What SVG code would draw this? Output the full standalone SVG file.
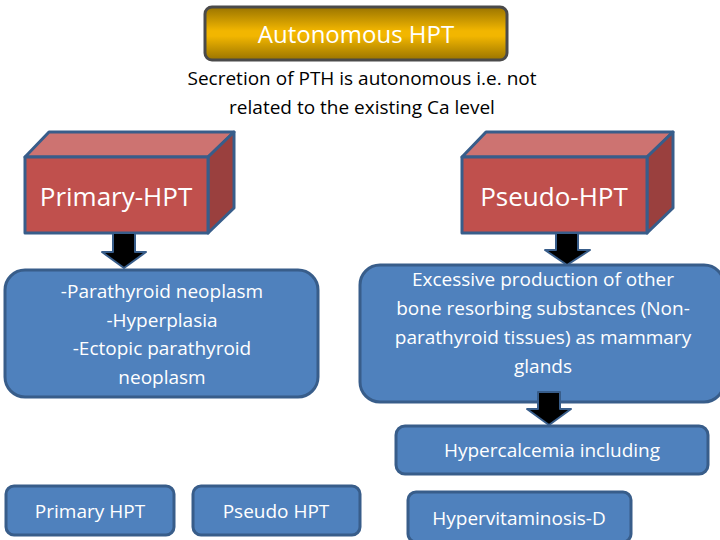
<svg xmlns="http://www.w3.org/2000/svg" width="720" height="540" viewBox="0 0 720 540">
<defs>
<linearGradient id="gold" x1="0" y1="0" x2="0" y2="1">
<stop offset="0" stop-color="#9a7400"/><stop offset="0.45" stop-color="#f2b600"/><stop offset="0.55" stop-color="#f2b600"/><stop offset="1" stop-color="#9a7400"/>
</linearGradient>
<style>
text{font-family:"Open Sans","Liberation Sans",sans-serif;text-anchor:middle}
.w{fill:#ffffff}
.b{fill:#000000}
.blue{fill:#4f81bd;stroke:#385d8a;stroke-width:3}
.front{fill:#c0504d;stroke:#385d8a;stroke-width:3;stroke-linejoin:round}
.top{fill:#cd7371;stroke:#385d8a;stroke-width:3;stroke-linejoin:round}
.side{fill:#9a403e;stroke:#385d8a;stroke-width:3;stroke-linejoin:round}
.arr{fill:#000000;stroke:#385d8a;stroke-width:2;stroke-linejoin:round}
</style>
</defs>
<rect width="720" height="540" fill="#ffffff"/>
<g id="autonomous">
<rect x="205" y="7" width="302" height="53" rx="7" fill="url(#gold)" stroke="#4a4a4a" stroke-width="3"/>
<text x="356" y="43" font-size="24" class="w">Autonomous HPT</text>
</g>
<g id="subtitle">
<text x="362" y="85" font-size="19" class="b">Secretion of PTH is autonomous i.e. not</text>
<text x="362" y="114" font-size="19" class="b">related to the existing Ca level</text>
</g>
<g id="primary">
<polygon class="top" points="25,157 49,132 234,132 208,157"/>
<polygon class="side" points="208,157 234,132 234,208 208,233"/>
<rect class="front" x="25" y="157" width="183" height="76"/>
<text x="116" y="206" font-size="26" class="w">Primary-HPT</text>
</g>
<g id="pseudo">
<polygon class="top" points="462,157 486,132 673,132 647,157"/>
<polygon class="side" points="647,157 673,132 673,208 647,233"/>
<rect class="front" x="462" y="157" width="185" height="76"/>
<text x="554" y="206" font-size="26" class="w">Pseudo-HPT</text>
</g>
<g id="left-list">
<rect class="blue" x="5" y="270" width="313" height="127" rx="20"/>
<text x="162" y="298" font-size="19" class="w">-Parathyroid neoplasm</text>
<text x="162" y="327" font-size="19" class="w">-Hyperplasia</text>
<text x="162" y="355" font-size="19" class="w">-Ectopic parathyroid</text>
<text x="162" y="384" font-size="19" class="w">neoplasm</text>
</g>
<g id="right-list">
<rect class="blue" x="360" y="265" width="364" height="137" rx="20"/>
<text x="543" y="286" font-size="19" class="w">Excessive production of other</text>
<text x="543" y="315" font-size="19" class="w">bone resorbing substances (Non-</text>
<text x="543" y="344" font-size="19" class="w">parathyroid tissues) as mammary</text>
<text x="543" y="373" font-size="19" class="w">glands</text>
</g>
<g id="hypercalcemia">
<rect class="blue" x="396" y="426" width="312" height="48" rx="9"/>
<text x="552" y="457" font-size="19" class="w">Hypercalcemia including</text>
</g>
<g id="primary-hpt">
<rect class="blue" x="6" y="486" width="168" height="49" rx="8"/>
<text x="90" y="518" font-size="19" class="w">Primary HPT</text>
</g>
<g id="pseudo-hpt">
<rect class="blue" x="193" y="486" width="167" height="49" rx="8"/>
<text x="276" y="518" font-size="19" class="w">Pseudo HPT</text>
</g>
<g id="hypervitaminosis">
<rect class="blue" x="408" y="492" width="223" height="50" rx="8"/>
<text x="519" y="525" font-size="19" class="w">Hypervitaminosis-D</text>
</g>
<g id="connectors">
<polygon class="arr" points="113,233 135,233 135,252 146,252 124,268 102,252 113,252"/>
<polygon class="arr" points="556,233 578,233 578,250 590,250 567,265 545,250 556,250"/>
<polygon class="arr" points="538,392 560,392 560,409 571,409 549,425 527,409 538,409"/>
</g>
</svg>
